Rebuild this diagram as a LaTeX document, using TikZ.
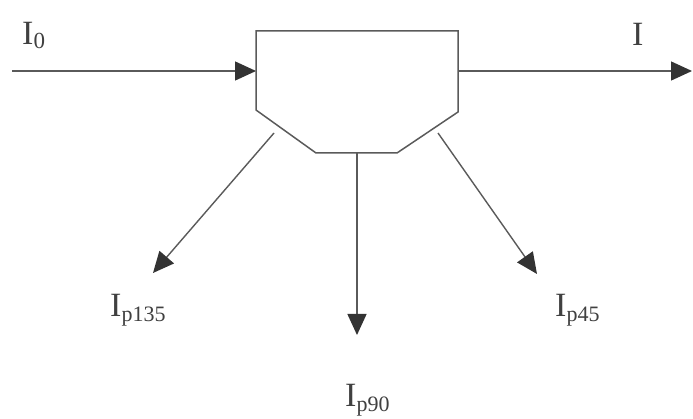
\documentclass[tikz,border=0pt]{standalone}
\usepackage{fontspec}
\setmainfont{Liberation Serif}
\usetikzlibrary{arrows.meta}
\definecolor{linegray}{HTML}{5A5A5A}
\definecolor{headgray}{HTML}{333333}
\newcommand{\beam}[2]{\fontsize{34}{36}\selectfont I\raisebox{-5pt}{\fontsize{22}{22}\selectfont #1}}
\tikzset{
  chamber/.style={draw=linegray, line width=1.5pt, line join=miter},
  ray/.style={draw=linegray, line width=1.4pt,
    -{Triangle[length=21pt,width=19pt,fill=headgray,color=headgray]}},
  beamlabel/.style={anchor=base west, inner sep=0pt, text=black!75}
}
\begin{document}
\begin{tikzpicture}[x=1pt,y=-1pt]
  \useasboundingbox (0,0) rectangle (693,419);

  % polygonal chamber
  \draw[chamber] (256,31) -- (458,31) -- (458,112) -- (397,153)
    -- (316,153) -- (256,110) -- cycle;

  % connector end points
  \coordinate (src)   at (12,71);
  \coordinate (inlet) at (256,71);
  \coordinate (outlet) at (458,71);
  \coordinate (dst)   at (692,71);
  \coordinate (s135)  at (274,133);
  \coordinate (e135)  at (153,273);
  \coordinate (s90)   at (357,153);
  \coordinate (e90)   at (357,335);
  \coordinate (s45)   at (438,133);
  \coordinate (e45)   at (537,274);

  \draw[ray] (src) -- (inlet);
  \draw[ray] (outlet) -- (dst);
  \draw[ray] (s135) -- (e135);
  \draw[ray] (s90) -- (e90);
  \draw[ray] (s45) -- (e45);

  % beam labels
  \node[beamlabel] (l0)   at (22,45)  {\fontsize{34}{36}\selectfont I\raisebox{-4pt}{\fontsize{23}{23}\selectfont 0}};
  \node[beamlabel] (lout) at (632,46) {\fontsize{34}{36}\selectfont I};
  \node[beamlabel] (l135) at (110,317) {\beam{p135}{}};
  \node[beamlabel] (l45)  at (555,317) {\beam{p45}{}};
  \node[beamlabel] (l90)  at (345,406) {\beam{p90}{}};
\end{tikzpicture}
\end{document}
